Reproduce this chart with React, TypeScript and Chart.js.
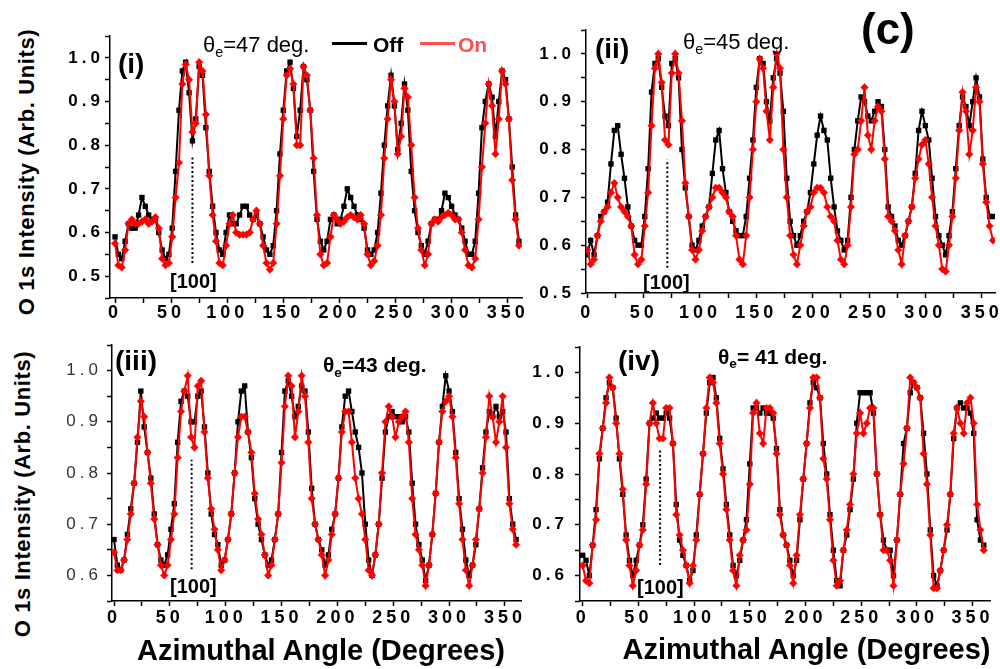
import React, { useEffect, useRef } from 'react';
import { Chart, registerables } from 'chart.js';
Chart.register(...registerables);

const FONT = '"Liberation Sans", Arial, Helvetica, sans-serif';

// Azimuthal angles (degrees)
const ANGLES = [
  0, 3, 6, 9, 12, 15, 18, 21, 24, 27,
  30, 33, 36, 39, 42, 45, 48, 51, 54, 57,
  60, 63, 66, 69, 72, 75, 78, 81, 84, 87,
  90, 93, 96, 99, 102, 105, 108, 111, 114, 117,
  120, 123, 126, 129, 132, 135, 138, 141, 144, 147,
  150, 153, 156, 159, 162, 165, 168, 171, 174, 177,
  180, 183, 186, 189, 192, 195, 198, 201, 204, 207,
  210, 213, 216, 219, 222, 225, 228, 231, 234, 237,
  240, 243, 246, 249, 252, 255, 258, 261, 264, 267,
  270, 273, 276, 279, 282, 285, 288, 291, 294, 297,
  300, 303, 306, 309, 312, 315, 318, 321, 324, 327,
  330, 333, 336, 339, 342, 345, 348, 351, 354, 357,
  360,
];

// (i) theta_e = 47 deg
const OFF_47 = [
  0.59, 0.55, 0.54, 0.58, 0.62, 0.61, 0.61, 0.64, 0.68, 0.66,
  0.64, 0.63, 0.63, 0.60, 0.56, 0.54, 0.55, 0.61, 0.74, 0.88,
  0.97, 0.99, 0.92, 0.81, 0.86, 0.98, 0.96, 0.84, 0.74, 0.66,
  0.60, 0.56, 0.55, 0.60, 0.64, 0.62, 0.62, 0.64, 0.66, 0.66,
  0.64, 0.63, 0.64, 0.62, 0.59, 0.56, 0.55, 0.57, 0.65, 0.78,
  0.88, 0.97, 0.99, 0.93, 0.82, 0.88, 0.98, 0.95, 0.88, 0.74,
  0.63, 0.58, 0.56, 0.58, 0.63, 0.64, 0.62, 0.63, 0.66, 0.70,
  0.68, 0.66, 0.64, 0.63, 0.61, 0.56, 0.55, 0.56, 0.60, 0.69,
  0.80, 0.89, 0.96, 0.89, 0.79, 0.85, 0.94, 0.88, 0.74, 0.65,
  0.60, 0.57, 0.55, 0.58, 0.62, 0.63, 0.63, 0.65, 0.69, 0.68,
  0.66, 0.64, 0.63, 0.61, 0.58, 0.55, 0.55, 0.58, 0.69, 0.84,
  0.90, 0.94, 0.91, 0.82, 0.90, 0.97, 0.95, 0.86, 0.75, 0.64,
  0.58,
];
const ON_47 = [
  0.575, 0.525, 0.52, 0.56, 0.62, 0.63, 0.62, 0.62, 0.625, 0.63,
  0.62, 0.625, 0.635, 0.61, 0.54, 0.525, 0.53, 0.59, 0.68, 0.76,
  0.94, 0.985, 0.95, 0.83, 0.85, 0.99, 0.97, 0.87, 0.73, 0.64,
  0.58, 0.53, 0.525, 0.57, 0.62, 0.64, 0.60, 0.595, 0.595, 0.595,
  0.60, 0.63, 0.65, 0.62, 0.57, 0.53, 0.515, 0.53, 0.62, 0.73,
  0.86, 0.96, 0.975, 0.94, 0.80, 0.80, 0.98, 0.96, 0.88, 0.77,
  0.64, 0.55, 0.525, 0.53, 0.59, 0.64, 0.63, 0.62, 0.625, 0.635,
  0.64, 0.635, 0.63, 0.64, 0.62, 0.55, 0.525, 0.535, 0.57, 0.64,
  0.77, 0.86, 0.95, 0.90, 0.78, 0.82, 0.93, 0.91, 0.80, 0.68,
  0.61, 0.56, 0.525, 0.55, 0.62, 0.63, 0.625, 0.635, 0.64, 0.645,
  0.64, 0.63, 0.63, 0.60, 0.56, 0.525, 0.52, 0.54, 0.63, 0.75,
  0.85, 0.94, 0.89, 0.78, 0.86, 0.97, 0.94, 0.86, 0.72, 0.63,
  0.57,
];

// (ii) theta_e = 45 deg
const OFF_45 = [
  0.58, 0.61, 0.58, 0.62, 0.66, 0.67, 0.69, 0.77, 0.84, 0.85,
  0.79, 0.74, 0.68, 0.64, 0.61, 0.60, 0.60, 0.66, 0.76, 0.92,
  0.98, 0.99, 0.93, 0.87, 0.85, 0.98, 0.99, 0.95, 0.80, 0.72,
  0.66, 0.60, 0.59, 0.61, 0.64, 0.66, 0.68, 0.75, 0.82, 0.84,
  0.76, 0.71, 0.67, 0.65, 0.63, 0.62, 0.62, 0.66, 0.74, 0.82,
  0.93, 0.99, 0.98, 0.90, 0.86, 0.95, 0.99, 0.96, 0.88, 0.74,
  0.65, 0.62, 0.60, 0.62, 0.65, 0.67, 0.71, 0.77, 0.83, 0.87,
  0.84, 0.82, 0.74, 0.68, 0.63, 0.61, 0.59, 0.61, 0.70, 0.80,
  0.86, 0.91, 0.90, 0.87, 0.86, 0.88, 0.90, 0.89, 0.80, 0.68,
  0.66, 0.64, 0.61, 0.60, 0.62, 0.65, 0.68, 0.75, 0.84, 0.88,
  0.85, 0.82, 0.74, 0.66, 0.62, 0.60, 0.58, 0.62, 0.67, 0.76,
  0.85, 0.91, 0.89, 0.85, 0.90, 0.95, 0.91, 0.78, 0.70, 0.66,
  0.66,
];
const ON_45 = [
  0.59, 0.56, 0.57, 0.62, 0.65, 0.67, 0.68, 0.71, 0.73, 0.70,
  0.68, 0.67, 0.66, 0.64, 0.58, 0.56, 0.57, 0.64, 0.71, 0.85,
  0.97, 1.0, 0.94, 0.82, 0.81, 0.96, 1.0, 0.96, 0.86, 0.73,
  0.66, 0.59, 0.57, 0.59, 0.63, 0.66, 0.68, 0.70, 0.72, 0.72,
  0.71, 0.70, 0.67, 0.66, 0.62, 0.57, 0.56, 0.62, 0.70, 0.80,
  0.90, 0.99, 0.97, 0.88, 0.82, 0.93, 1.0, 0.97, 0.80, 0.70,
  0.62, 0.58, 0.56, 0.60, 0.64, 0.67, 0.68, 0.71, 0.72, 0.72,
  0.71, 0.68, 0.66, 0.65, 0.61, 0.57, 0.56, 0.60, 0.68, 0.79,
  0.80, 0.86, 0.93, 0.83, 0.80, 0.86, 0.89, 0.88, 0.78, 0.66,
  0.65, 0.63, 0.59, 0.56, 0.62, 0.65, 0.68, 0.74, 0.78, 0.81,
  0.82, 0.77, 0.70, 0.64, 0.60, 0.55, 0.545, 0.60, 0.66, 0.74,
  0.84, 0.92, 0.88, 0.79, 0.84, 0.93, 0.90, 0.77, 0.69, 0.64,
  0.61,
];

// (iii) theta_e = 43 deg
const OFF_43 = [
  0.67, 0.62, 0.61, 0.63, 0.68, 0.73, 0.78, 0.86, 0.96, 0.89,
  0.84, 0.79, 0.72, 0.66, 0.63, 0.62, 0.64, 0.69, 0.74, 0.86,
  0.94, 0.96, 0.95, 0.90, 0.90, 0.95, 0.96, 0.89, 0.80, 0.72,
  0.68, 0.66, 0.62, 0.63, 0.67, 0.72, 0.80, 0.90, 0.96, 0.97,
  0.88, 0.83, 0.75, 0.70, 0.67, 0.64, 0.62, 0.63, 0.67, 0.72,
  0.84, 0.96, 0.98, 0.95, 0.91, 0.93, 0.97, 0.96, 0.88, 0.77,
  0.70, 0.67, 0.65, 0.62, 0.64, 0.69, 0.72, 0.79, 0.89, 0.95,
  0.96, 0.92, 0.88, 0.85, 0.80, 0.70, 0.63, 0.60, 0.64, 0.70,
  0.79, 0.88, 0.91, 0.92, 0.91, 0.91, 0.90, 0.91, 0.88, 0.78,
  0.70, 0.66, 0.63, 0.59, 0.62, 0.68, 0.76, 0.86, 0.93, 0.99,
  0.96, 0.92, 0.84, 0.75, 0.69, 0.63, 0.60, 0.62, 0.66, 0.73,
  0.81, 0.88, 0.92, 0.91, 0.93, 0.91, 0.92, 0.88, 0.75, 0.70,
  0.67,
];
const ON_43 = [
  0.645, 0.61, 0.61, 0.63, 0.67, 0.72, 0.78, 0.87, 0.94, 0.91,
  0.84, 0.78, 0.71, 0.66, 0.62, 0.60, 0.62, 0.67, 0.72, 0.83,
  0.92, 0.96, 0.99, 0.87, 0.85, 0.97, 0.98, 0.88, 0.79, 0.73,
  0.69, 0.65, 0.61, 0.63, 0.67, 0.72, 0.80, 0.87, 0.91, 0.91,
  0.88, 0.84, 0.76, 0.71, 0.68, 0.64, 0.60, 0.62, 0.67, 0.72,
  0.82, 0.93, 0.99, 0.97, 0.87, 0.92, 0.99, 0.95, 0.86, 0.75,
  0.70, 0.67, 0.64, 0.60, 0.63, 0.68, 0.72, 0.79, 0.88, 0.92,
  0.92, 0.86, 0.79, 0.75, 0.72, 0.67, 0.61, 0.60, 0.64, 0.70,
  0.80, 0.90, 0.93, 0.91, 0.87, 0.90, 0.91, 0.92, 0.86, 0.75,
  0.68, 0.65, 0.62, 0.58, 0.62, 0.68, 0.76, 0.86, 0.92, 0.94,
  0.95, 0.91, 0.83, 0.74, 0.67, 0.61, 0.58, 0.62, 0.67, 0.73,
  0.80, 0.87, 0.95, 0.91, 0.86, 0.90, 0.95, 0.85, 0.74, 0.69,
  0.66,
];

// (iv) theta_e = 41 deg
const OFF_41 = [
  0.64, 0.63, 0.60, 0.66, 0.73, 0.83, 0.89, 0.95, 0.98, 0.97,
  0.91, 0.83, 0.76, 0.68, 0.63, 0.60, 0.63, 0.66, 0.70, 0.79,
  0.90, 0.91, 0.92, 0.91, 0.91, 0.92, 0.91, 0.86, 0.74, 0.67,
  0.64, 0.62, 0.59, 0.61, 0.68, 0.76, 0.84, 0.92, 0.98, 0.99,
  0.95, 0.87, 0.81, 0.74, 0.68, 0.62, 0.60, 0.63, 0.67, 0.71,
  0.82, 0.93, 0.93, 0.92, 0.93, 0.92, 0.92, 0.91, 0.85, 0.73,
  0.68, 0.66, 0.63, 0.60, 0.63, 0.71, 0.79, 0.86, 0.94, 0.98,
  0.97, 0.95, 0.86, 0.80, 0.72, 0.65, 0.59, 0.58, 0.65, 0.68,
  0.73, 0.79, 0.90, 0.96, 0.96, 0.96, 0.96, 0.92, 0.80, 0.72,
  0.67, 0.65, 0.65, 0.60, 0.67, 0.76, 0.86, 0.89, 0.96, 0.98,
  0.97, 0.95, 0.88, 0.80, 0.69, 0.60, 0.58, 0.61, 0.65, 0.69,
  0.76, 0.87, 0.93, 0.94, 0.93, 0.93, 0.92, 0.88, 0.71, 0.67,
  0.66,
];
const ON_41 = [
  0.62, 0.59, 0.585, 0.66, 0.71, 0.84, 0.89, 0.94, 0.99, 0.97,
  0.90, 0.84, 0.77, 0.67, 0.62, 0.58, 0.61, 0.66, 0.69, 0.78,
  0.90, 0.94, 0.90, 0.87, 0.87, 0.93, 0.93, 0.86, 0.72, 0.68,
  0.65, 0.62, 0.585, 0.62, 0.67, 0.76, 0.84, 0.93, 0.99, 0.98,
  0.94, 0.86, 0.80, 0.73, 0.67, 0.61, 0.58, 0.64, 0.67, 0.69,
  0.78, 0.92, 0.94, 0.88, 0.86, 0.93, 0.93, 0.92, 0.84, 0.72,
  0.68, 0.66, 0.62, 0.585, 0.64, 0.72, 0.79, 0.86, 0.93, 0.99,
  0.99, 0.95, 0.83, 0.79, 0.71, 0.63, 0.58, 0.59, 0.65, 0.69,
  0.74, 0.80, 0.88, 0.92, 0.88, 0.90, 0.93, 0.93, 0.80, 0.72,
  0.65, 0.65, 0.63, 0.58, 0.67, 0.76, 0.82, 0.89, 0.99, 0.98,
  0.97, 0.95, 0.84, 0.78, 0.68, 0.575, 0.575, 0.61, 0.65, 0.70,
  0.76, 0.88, 0.93, 0.90, 0.88, 0.94, 0.95, 0.90, 0.74, 0.69,
  0.65,
];

// [100] direction markers (angle, low value, high value) per panel
const MARK_ANGLE = [69, 71, 69.5, 69.5];
const MARK_LOW = [0.53, 0.553, 0.612, 0.621];
const MARK_HIGH = [0.777, 0.779, 0.826, 0.851];

const YW = 60; // y-axis box width
const XH = 34; // x-axis box height
const PT = 6;
const PR = 6;

type PanelCfg = {
  off: number[];
  on: number[];
  idx: number;
  plot: { l: number; t: number; r: number; b: number };
  xMin: number;
  xMax: number;
  yMin: number;
  yMax: number;
  yBold: boolean;
  yPad: number;
  xPad: number;
};

const PANELS: PanelCfg[] = [
  { off: OFF_47, on: ON_47, idx: 0, plot: { l: 110, t: 36, r: 522, b: 298 }, xMin: -4.46, xMax: 362.7, yMin: 0.45, yMax: 1.05, yBold: true, yPad: 1, xPad: -1 },
  { off: OFF_45, on: ON_45, idx: 1, plot: { l: 586, t: 30, r: 995, b: 293 }, xMin: -1.15, xMax: 361.8, yMin: 0.5, yMax: 1.05, yBold: true, yPad: 6, xPad: 4 },
  { off: OFF_43, on: ON_43, idx: 2, plot: { l: 112, t: 345, r: 521, b: 601 }, xMin: -1.8, xMax: 364.4, yMin: 0.55, yMax: 1.05, yBold: false, yPad: 5, xPad: 1 },
  { off: OFF_41, on: ON_41, idx: 3, plot: { l: 580, t: 347, r: 990, b: 601 }, xMin: -2.4, xMax: 365.6, yMin: 0.55, yMax: 1.05, yBold: true, yPad: 7, xPad: 1 },
];

const spacingPlugin = {
  id: 'tickSpacing',
  beforeDraw(chart: any) {
    try { chart.ctx.letterSpacing = '4px'; } catch (e) { /* ignore */ }
  },
  beforeDatasetsDraw(chart: any) {
    try { chart.ctx.letterSpacing = '0px'; } catch (e) { /* ignore */ }
  },
};

function Panel({ cfg }: { cfg: PanelCfg }) {
  const ref = useRef<HTMLCanvasElement>(null);
  const { plot } = cfg;
  const left = plot.l - YW;
  const top = plot.t - PT;
  const width = plot.r + PR - left;
  const height = plot.b + XH - top;

  useEffect(() => {
    const zeroPad = (s: any) => {
      s.paddingLeft = 0; s.paddingRight = 0; s.paddingTop = 0; s.paddingBottom = 0;
    };
    const chart = new Chart(ref.current as HTMLCanvasElement, {
      type: 'line',
      data: {
        datasets: [
          {
            label: 'On',
            data: ANGLES.map((a, i) => ({ x: a, y: cfg.on[i] })),
            borderColor: '#ff0000',
            backgroundColor: '#ff0000',
            borderWidth: 2,
            pointStyle: 'rectRot',
            pointRadius: 3.8,
            pointBackgroundColor: '#ff0000',
            pointBorderColor: '#ff0000',
            pointBorderWidth: 0.5,
            tension: 0,
          },
          {
            label: 'Off',
            data: ANGLES.map((a, i) => ({ x: a, y: cfg.off[i] })),
            borderColor: '#000000',
            backgroundColor: '#000000',
            borderWidth: 2,
            pointStyle: 'rect',
            pointRadius: 3.8,
            pointBackgroundColor: '#000000',
            pointBorderWidth: 0,
            tension: 0,
          },
          {
            label: '[100]',
            data: [
              { x: MARK_ANGLE[cfg.idx], y: MARK_LOW[cfg.idx] },
              { x: MARK_ANGLE[cfg.idx], y: MARK_HIGH[cfg.idx] },
            ],
            borderColor: '#000000',
            borderWidth: 2,
            borderDash: [2, 2.5],
            pointRadius: 0,
          },
        ],
      } as any,
      options: {
        responsive: false,
        maintainAspectRatio: false,
        animation: false,
        events: [],
        layout: { padding: { left: 0, top: PT, right: PR, bottom: 0 } },
        plugins: { legend: { display: false }, tooltip: { enabled: false } },
        scales: {
          x: {
            type: 'linear',
            min: cfg.xMin,
            max: cfg.xMax,
            afterFit: (s: any) => { s.height = XH; zeroPad(s); },
            ticks: {
              stepSize: 25,
              includeBounds: false,
              autoSkip: false,
              maxRotation: 0,
              minRotation: 0,
              padding: cfg.xPad,
              color: '#000',
              font: { family: FONT, size: 18, weight: 'bold' },
              callback: (v: any) => {
                const r = Math.round(Number(v));
                return r % 50 === 0 ? String(r) : '';
              },
            },
            grid: { display: true, drawOnChartArea: false, drawTicks: true, tickLength: 5, tickColor: '#000', tickWidth: 1.5 },
            border: { display: true, color: '#000', width: 1.5 },
          },
          y: {
            type: 'linear',
            min: cfg.yMin,
            max: cfg.yMax,
            afterFit: (s: any) => { s.width = YW; zeroPad(s); },
            ticks: {
              stepSize: 0.05,
              includeBounds: false,
              autoSkip: false,
              padding: cfg.yPad,
              color: cfg.yBold ? '#000' : '#333',
              font: { family: FONT, size: 17, weight: cfg.yBold ? 'bold' : 'normal' },
              callback: (v: any) => {
                const t = Math.round(Number(v) * 100);
                return t % 10 === 0 ? (t / 100).toFixed(1) : '';
              },
            },
            grid: { display: true, drawOnChartArea: false, drawTicks: true, tickLength: 5, tickColor: '#000', tickWidth: 1.5 },
            border: { display: true, color: '#000', width: 1.5 },
          },
        },
      } as any,
      plugins: [spacingPlugin as any],
    });
    return () => chart.destroy();
  }, []);

  return (
    <canvas
      ref={ref}
      width={width}
      height={height}
      style={{ position: 'absolute', left, top, width, height }}
    />
  );
}

function Txt(props: { x: number; base: number; size: number; weight?: string; color?: string; center?: boolean; children: any }) {
  const { x, base, size, weight = 'bold', color = '#000', center = false, children } = props;
  return (
    <div
      style={{
        position: 'absolute',
        left: x,
        top: base - 0.8465 * size,
        fontFamily: FONT,
        fontSize: size,
        fontWeight: weight as any,
        color,
        lineHeight: 1,
        whiteSpace: 'nowrap',
        transform: center ? 'translateX(-50%)' : undefined,
      }}
    >
      {children}
    </div>
  );
}

function Theta({ deg }: { deg: string }) {
  return (
    <>
      θ<span style={{ fontSize: '0.65em', position: 'relative', top: '0.35em' }}>e</span>
      {deg}
    </>
  );
}

function YTitle({ cx, cy }: { cx: number; cy: number }) {
  return (
    <div
      style={{
        position: 'absolute',
        left: cx,
        top: cy,
        transform: 'translate(-50%, -50%) rotate(-90deg)',
        fontFamily: FONT,
        fontSize: 22,
        fontWeight: 'bold',
        letterSpacing: '0.6px',
        lineHeight: 1,
        whiteSpace: 'nowrap',
        color: '#000',
      }}
    >
      O 1s Intensity (Arb. Units)
    </div>
  );
}

export default function App() {
  return (
    <div
      style={{
        position: 'absolute',
        left: 0,
        top: 0,
        width: 1000,
        height: 669,
        background: '#fff',
        overflow: 'hidden',
        fontFamily: FONT,
      }}
    >
      {PANELS.map((p) => (
        <Panel key={p.idx} cfg={p} />
      ))}

      <YTitle cx={27} cy={171.5} />
      <YTitle cx={23} cy={494} />

      <Txt x={118} base={74} size={28}>(i)</Txt>
      <Txt x={203} base={53} size={22} weight="normal"><Theta deg="=47 deg." /></Txt>
      <div style={{ position: 'absolute', left: 332, top: 42, width: 35, height: 3, background: '#000' }} />
      <Txt x={373} base={52} size={21}>Off</Txt>
      <div style={{ position: 'absolute', left: 420, top: 42, width: 35, height: 3, background: '#ff5050' }} />
      <Txt x={458} base={52} size={21} color="#ff5050">On</Txt>
      <Txt x={170} base={288} size={20}>[100]</Txt>

      <Txt x={595} base={59} size={28}>(ii)</Txt>
      <Txt x={683} base={50} size={22} weight="normal"><Theta deg="=45 deg." /></Txt>
      <Txt x={861} base={44} size={44}>(c)</Txt>
      <Txt x={643} base={289} size={20}>[100]</Txt>

      <Txt x={115} base={371} size={28}>(iii)</Txt>
      <Txt x={323} base={372} size={21}><Theta deg="=43 deg." /></Txt>
      <Txt x={170} base={593} size={20}>[100]</Txt>

      <Txt x={618} base={371} size={28}>(iv)</Txt>
      <Txt x={718} base={363.5} size={21}><Theta deg="= 41 deg." /></Txt>
      <Txt x={637} base={594} size={20}>[100]</Txt>

      <Txt x={321} base={661} size={29} center>Azimuthal Angle (Degrees)</Txt>
      <Txt x={806.5} base={660} size={29} center>Azimuthal Angle (Degrees)</Txt>
    </div>
  );
}
